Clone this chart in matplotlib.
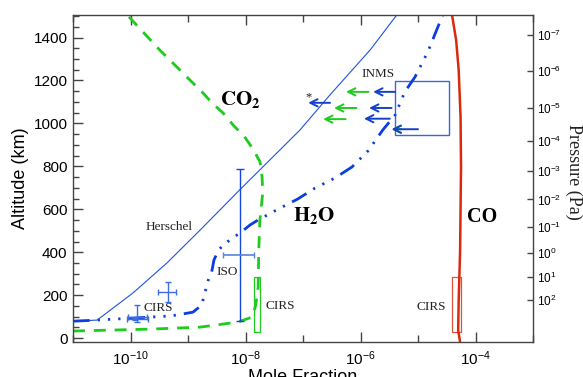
import numpy as np
import matplotlib
matplotlib.use("Agg")
import matplotlib.pyplot as plt
from matplotlib.ticker import FixedLocator, NullFormatter, FixedFormatter
from matplotlib.patches import Rectangle

plt.rcParams['font.family'] = ['Liberation Sans', 'DejaVu Sans']
plt.rcParams['mathtext.fontset'] = 'custom'
plt.rcParams['mathtext.rm'] = 'Liberation Sans'
plt.rcParams['mathtext.it'] = 'Liberation Sans:italic'
plt.rcParams['mathtext.bf'] = 'Liberation Sans:bold'

# ---------------- data ----------------
h2o_x = [1.0e-11, 2.63e-11, 2.19e-10, 4.9e-10, 7.9e-10, 1.22e-9, 1.73e-9, 1.98e-9,
         2.25e-9, 2.58e-9, 2.83e-9, 3.33e-9, 4.06e-9, 8.6e-9, 1.2e-8, 1.65e-8, 3.7e-8,
         8.1e-8, 1.62e-7, 3.6e-7, 7.1e-7, 1.35e-6, 2.45e-6, 4.0e-6, 5.9e-6, 8.9e-6,
         1.48e-5, 2.7e-5]
h2o_alt = [79, 84, 98, 103, 112, 121, 154, 214, 270, 308, 364, 406, 434, 496, 527,
           550, 601, 648, 699, 746, 797, 872, 970, 1039, 1147, 1217, 1333, 1506]

herschel_x = [1.0e-11, 2.63e-11, 1.1e-10, 4.3e-10, 1.62e-9, 7.9e-9, 8.9e-8, 2.95e-7,
              1.48e-6, 4.3e-6]
herschel_alt = [79, 84, 210, 350, 503, 690, 970, 1133, 1343, 1506]

co2_x = [1.0e-11, 3.9e-11, 2.2e-10, 1.6e-9, 7.4e-9, 1.3e-8, 1.51e-8, 1.66e-8, 1.7e-8,
         1.78e-8, 2.0e-8, 1.94e-8, 1.79e-8, 1.35e-8, 9.4e-9, 6.3e-9, 4.06e-9, 2.61e-9,
         1.75e-9, 1.17e-9, 3.2e-10, 8.7e-11]
co2_alt = [33, 37, 42, 51, 75, 98, 154, 238, 410, 550, 681, 751, 821, 881, 942, 988,
           1049, 1096, 1147, 1193, 1343, 1506]

co_x = [3.9e-5, 4.6e-5, 5.1e-5, 5.5e-5, 5.6e-5, 5.4e-5, 5.1e-5, 5.0e-5, 5.4e-5]
co_alt = [1506, 1389, 1249, 1030, 797, 410, 177, 37, -19]

# CIRS H2O points: x, x_low, x_high, alt, alt_low, alt_high
cirs_h2o_x = [4.5e-10, 1.29e-10, 1.2e-10]
cirs_h2o_xlo = [3.0e-10, 9.1e-11, 8.7e-11]
cirs_h2o_xhi = [6.2e-10, 1.9e-10, 2.0e-10]
cirs_h2o_alt = [216, 98, 89]
cirs_h2o_alo = [169, 76, 84]
cirs_h2o_ahi = [262, 154, 94]

# ISO H2O
iso_x, iso_xlo, iso_xhi = 7.9e-9, 4.1e-9, 1.41e-8
iso_alt, iso_alo, iso_ahi = 387, 81, 790

# CIRS boxes (xmin, xmax, altmin, altmax)
cirs_co2_box = (1.41e-8, 1.82e-8, 30, 286)
cirs_co_box = (3.98e-5, 5.6e-5, 30, 286)
inms_box = (4.0e-6, 3.47e-5, 945, 1197)

# INMS arrows (tail, head, altitude)
blue_arrow_from = [4.0e-6, 3.47e-6, 3.24e-6, 1.0e-5, 2.95e-7]
blue_arrow_to = [1.66e-6, 1.41e-6, 1.15e-6, 3.47e-6, 1.23e-7]
blue_arrow_alt = [1147, 1072, 1022, 973, 1096]
green_arrow_from = [1.38e-6, 8.5e-7, 5.5e-7, 5.2e-6]
green_arrow_to = [5.6e-7, 3.47e-7, 2.24e-7, 3.47e-6]
green_arrow_alt = [1147, 1072, 1020, 973]

x_major = [1e-10, 1e-8, 1e-6, 1e-4]
x_minor = [1e-11, 1e-9, 1e-7, 1e-5, 1e-3]
y_major = [0, 200, 400, 600, 800, 1000, 1200, 1400]
p_tick_alt = [1414, 1244, 1073, 918, 778, 646, 518, 397, 286, 177]
p_tick_labels = [r'$10^{-7}$', r'$10^{-6}$', r'$10^{-5}$', r'$10^{-4}$', r'$10^{-3}$',
                 r'$10^{-2}$', r'$10^{-1}$', r'$10^{0}$', r'$10^{1}$', r'$10^{2}$']

# ---------------- colours ----------------
C_H2O = '#0a3ee0'
C_HER = '#1f52e6'
C_GREEN = '#1ecb1e'
C_RED = '#d92a0c'
C_ERR = '#3c6ee2'
C_SPINE = '#444444'

W, H = 583, 377
fig = plt.figure(figsize=(W / 100, H / 100), dpi=100)
ax = fig.add_axes([73 / W, 1 - 342 / H, 460 / W, 327 / H])
ax.set_xscale('log')
ax.set_xlim(1e-11, 1e-3)
ax.set_ylim(-18, 1505)

# curves
ax.plot(herschel_x, herschel_alt, color=C_HER, lw=0.8)
l, = ax.plot(co2_x, co2_alt, color=C_GREEN, lw=2.0)
l.set_dashes((4.3, 3.2))
l, = ax.plot(h2o_x, h2o_alt, color=C_H2O, lw=2.0)
l.set_dashes((6.0, 2.9, 0.8, 2.9, 0.8, 2.9, 0.8, 2.9))
ax.plot(co_x, co_alt, color=C_RED, lw=1.8, clip_on=True)

# CIRS H2O crosses
for x, xl, xh, a, al, ah in zip(cirs_h2o_x, cirs_h2o_xlo, cirs_h2o_xhi,
                                 cirs_h2o_alt, cirs_h2o_alo, cirs_h2o_ahi):
    ax.errorbar([x], [a], xerr=[[x - xl], [xh - x]], yerr=[[a - al], [ah - a]],
                fmt='none', ecolor=C_ERR, elinewidth=1.0, capsize=2.5, capthick=1.0)

# ISO
ax.errorbar([iso_x], [iso_alt], yerr=[[iso_alt - iso_alo], [iso_ahi - iso_alt]],
            fmt='none', ecolor='#1546dc', elinewidth=1.0, capsize=3, capthick=1.0)
ax.errorbar([iso_x], [iso_alt], xerr=[[iso_x - iso_xlo], [iso_xhi - iso_x]],
            fmt='none', ecolor='#5a82e0', elinewidth=1.2, capsize=2, capthick=1.0)

# boxes
def box(b, color, lw=0.9):
    x0, x1, a0, a1 = b
    ax.add_patch(Rectangle((x0, a0), x1 - x0, a1 - a0, fill=False,
                           edgecolor=color, lw=lw))

box(cirs_co2_box, C_GREEN)
box(cirs_co_box, '#e0503a')
box(inms_box, '#3a66dd', 1.0)

# arrows
for xf, xt, a in zip(green_arrow_from, green_arrow_to, green_arrow_alt):
    ax.annotate('', xy=(xt, a), xytext=(xf, a),
                arrowprops=dict(arrowstyle='->', color=C_GREEN, lw=1.4,
                                shrinkA=0, shrinkB=0, mutation_scale=13))
for xf, xt, a in zip(blue_arrow_from, blue_arrow_to, blue_arrow_alt):
    ax.annotate('', xy=(xt, a), xytext=(xf, a),
                arrowprops=dict(arrowstyle='->', color='#1440cc', lw=1.4,
                                shrinkA=0, shrinkB=0, mutation_scale=13))

# annotations
serif = ['Liberation Serif', 'DejaVu Serif']
ax.text(10 ** -9.33, 517, 'Herschel', family=serif, fontsize=9.5, color='#222222',
        ha='center', va='center')
ax.text(10 ** -8.51, 308, 'ISO', family=serif, fontsize=9.5, color='#222222',
        ha='left', va='center')
ax.text(10 ** -9.78, 142, 'CIRS', family=serif, fontsize=9.5, color='#222222',
        ha='left', va='center')
ax.text(10 ** -7.66, 150, 'CIRS', family=serif, fontsize=9.5, color='#222222',
        ha='left', va='center')
ax.text(10 ** -5.02, 145, 'CIRS', family=serif, fontsize=9.5, color='#222222',
        ha='left', va='center')
ax.text(10 ** -5.99, 1228, 'INMS', family=serif, fontsize=9.5, color='#222222',
        ha='left', va='center')
ax.text(10 ** -6.91, 1122, '*', family=serif, fontsize=9, color='#222222',
        ha='center', va='center')
ax.text(10 ** -8.44, 1086, r'$\mathbf{CO_2}$', math_fontfamily='stix', fontsize=15,
        ha='left', va='baseline', color='black')
ax.text(10 ** -7.17, 545, r'$\mathbf{H_2O}$', math_fontfamily='stix', fontsize=15,
        ha='left', va='baseline', color='black')
ax.text(10 ** -4.15, 541, 'CO', family=serif, fontweight='bold', fontsize=14.5,
        ha='left', va='baseline', color='black')

# axes styling
ax.xaxis.set_major_locator(FixedLocator(x_major))
ax.xaxis.set_minor_locator(FixedLocator(x_minor))
ax.xaxis.set_minor_formatter(NullFormatter())
ax.xaxis.set_major_formatter(FixedFormatter([r'$10^{-10}$', r'$10^{-8}$',
                                             r'$10^{-6}$', r'$10^{-4}$']))
ax.set_yticks(y_major)
ax.yaxis.set_minor_locator(FixedLocator(np.arange(0, 1501, 50)))
ax.tick_params(axis='x', which='both', direction='in', top=True, bottom=True,
               color=C_SPINE, labelsize=11, pad=5)
ax.tick_params(axis='x', which='major', length=7, width=1)
ax.tick_params(axis='x', which='minor', length=5, width=1)
ax.tick_params(axis='y', which='both', direction='in', left=True, right=False,
               color=C_SPINE, labelsize=11, pad=4)
ax.tick_params(axis='y', which='major', length=7, width=1)
ax.tick_params(axis='y', which='minor', length=4, width=1)
for s in ax.spines.values():
    s.set_color(C_SPINE)
    s.set_linewidth(1.0)

ax.set_xlabel('Mole Fraction', fontsize=13, labelpad=1)
ax.set_ylabel('Altitude (km)', fontsize=13, labelpad=3)

ax2 = ax.twinx()
ax2.set_ylim(ax.get_ylim())
ax2.set_yticks(p_tick_alt)
ax2.set_yticklabels(p_tick_labels)
ax2.yaxis.set_minor_locator(FixedLocator([]))
ax2.tick_params(axis='y', direction='in', length=4, width=1, color=C_SPINE,
                labelsize=8.5, pad=3)
for s in ax2.spines.values():
    s.set_visible(False)
fig.text(574 / W, 1 - 172 / H, 'Pressure (Pa)', family=serif, fontsize=13,
         rotation=-90, ha='center', va='center', color='#222222')

fig.savefig('out.png', dpi=100)
